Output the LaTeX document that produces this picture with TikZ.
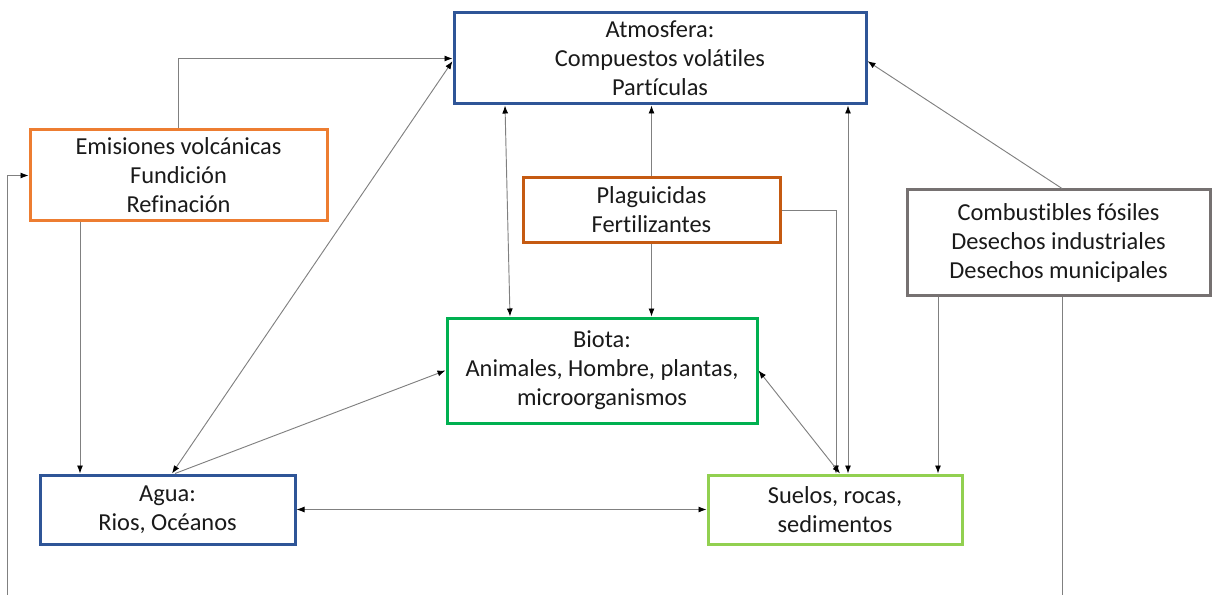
\documentclass[tikz,border=0pt]{standalone}
\usepackage{fontspec}
\setmainfont{Carlito}[Ligatures=NoCommon]
\usetikzlibrary{arrows.meta}
\definecolor{cblue}{HTML}{2F5597}
\definecolor{corange}{HTML}{ED7D31}
\definecolor{cbrown}{HTML}{C55A11}
\definecolor{cgray}{HTML}{767171}
\definecolor{cgreen}{HTML}{00B050}
\definecolor{clgreen}{HTML}{92D050}
\definecolor{cline}{HTML}{808080}
\definecolor{ctext}{HTML}{1A1A1A}
\begin{document}
\begin{tikzpicture}[x=0.75pt,y=-0.75pt,
  box/.style={draw, line width=2.25pt, fill=white, align=center, inner sep=0pt, text=ctext,
    font=\fontsize{18.3}{21.75}\selectfont},
  sz/.style 2 args={minimum width=#1*0.75pt, minimum height=#2*0.75pt},
  con/.style={draw=cline, line width=0.7pt},
  arr/.style={con, -{Latex[length=6pt,width=4.5pt,color=black]}},
  darr/.style={con, {Latex[length=6pt,width=4.5pt,color=black]}-{Latex[length=6pt,width=4.5pt,color=black]}}]
\useasboundingbox (0,0) rectangle (1212,595);

\node[box, draw=cblue, sz={412}{91}] (atm) at (660,58.5) {Atmosfera:\\Compuestos volátiles\\Partículas};
\node[box, draw=corange, sz={297}{91}] (emi) at (178.5,175.5) {Emisiones volcánicas\\Fundición\\Refinación};
\node[box, draw=cbrown, sz={257}{64}] (pla) at (651.5,210) {Plaguicidas\\Fertilizantes};
\node[box, draw=cgray, sz={303}{105}] (com) at (1058.5,242.5) {Combustibles fósiles\\Desechos industriales\\Desechos municipales};
\node[box, draw=cgreen, sz={310}{105}] (bio) at (602,370.5) {Biota:\\Animales, Hombre, plantas,\\microorganismos};
\node[box, draw=cblue, sz={255}{69}] (agu) at (167.5,509.5) {Agua:\\Rios, Océanos};
\node[box, draw=clgreen, sz={254}{69}] (sue) at (835,509.5) {Suelos, rocas,\\sedimentos};

\coordinate (x80) at (80,0);
\coordinate (x172) at (172,0);
\coordinate (x175) at (175,0);
\coordinate (x505) at (505,0);
\coordinate (x510) at (510,0);
\coordinate (x836) at (836,0);
\coordinate (x840) at (840,0);
\coordinate (x848) at (848,0);
\coordinate (x938) at (938,0);
\coordinate (x1062) at (1062,0);
\coordinate (b1) at (7,595);
\coordinate (b2) at (1062,595);

\draw[arr] (emi.north) |- (atm.west);
\draw[arr] (b1) |- (emi.west);
\draw[arr] (emi.south -| x80) -- (agu.north -| x80);
\draw[darr] (agu.north -| x172) -- ([yshift=-2pt]atm.west);
\draw[arr] (agu.north -| x175) -- (bio.west);
\draw[darr] (atm.south -| x505) -- (bio.north -| x510);
\draw[arr] (pla.north) -- (pla.north |- atm.south);
\draw[arr] (pla.south) -- (pla.south |- bio.north);
\draw[arr] (pla.east) -| (sue.north -| x836);
\draw[darr] (atm.south -| x848) -- (sue.north -| x848);
\draw[darr] (bio.east) -- (sue.north -| x840);
\draw[arr] (com.north -| x1062) -- ([yshift=-2pt]atm.east);
\draw[arr] (com.south -| x938) -- (sue.north -| x938);
\draw[con] (com.south -| x1062) -- (b2);
\draw[darr] (agu.east) -- (sue.west);
\end{tikzpicture}
\end{document}
